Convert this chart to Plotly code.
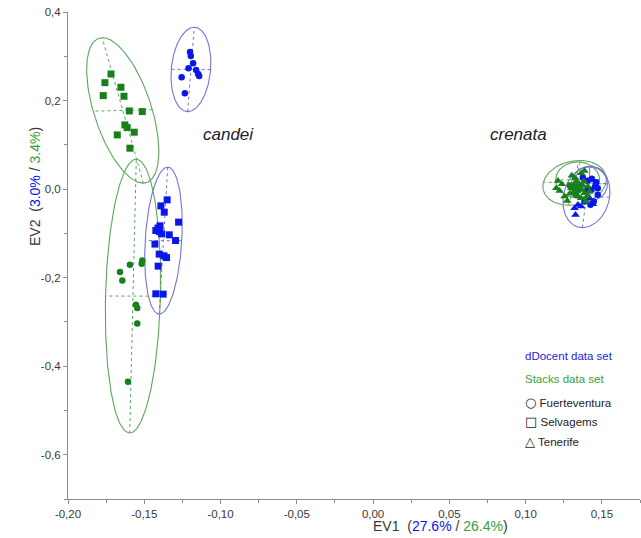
import numpy as np
import plotly.graph_objects as go

# ---------------- data ----------------
# candei
dd_fue_candei_x = [-0.120, -0.1195, -0.118, -0.121, -0.116, -0.1147, -0.114, -0.1255, -0.1234]
dd_fue_candei_y = [0.3097, 0.3007, 0.284, 0.273, 0.269, 0.260, 0.2555, 0.2526, 0.2165]

st_sel_candei_x = [-0.1718, -0.1758, -0.1653, -0.1769, -0.1633, -0.1598, -0.1513, -0.1627, -0.1612, -0.1566, -0.1677, -0.1594]
st_sel_candei_y = [0.260, 0.2404, 0.230, 0.2111, 0.2097, 0.1766, 0.175, 0.145, 0.1389, 0.1285, 0.1224, 0.0924]

dd_sel_candei_x = [-0.1350, -0.1391, -0.1369, -0.1275, -0.1397, -0.1424, -0.1386, -0.1336, -0.1295, -0.1430,
                   -0.1402, -0.1371, -0.1354, -0.1409, -0.1424, -0.1376, -0.1410, -0.1400]
dd_sel_candei_y = [-0.0243, -0.0379, -0.0521, -0.0747, -0.0830, -0.0936, -0.1011, -0.1033, -0.1162, -0.1243,
                   -0.1469, -0.1507, -0.1546, -0.1740, -0.2365, -0.2372, -0.0880, -0.0960]

st_fue_candei_x = [-0.1513, -0.1517, -0.1594, -0.1659, -0.1644, -0.1555, -0.1546, -0.1546, -0.1607]
st_fue_candei_y = [-0.1613, -0.1688, -0.1710, -0.1875, -0.2065, -0.2613, -0.2688, -0.3035, -0.4351]

# crenata
st_ten_cren_x = [0.1212, 0.1238, 0.1201, 0.1223, 0.1255, 0.1273, 0.1303, 0.1325, 0.1364, 0.1386, 0.1316, 0.1338, 0.1353,
                 0.1369, 0.1338, 0.1316, 0.1299, 0.1386, 0.1403, 0.1364, 0.1343, 0.1332, 0.1382, 0.1408, 0.1419, 0.1397,
                 0.1350, 0.1320, 0.1375, 0.1290]
st_ten_cren_y = [0.0186, 0.0111, 0.0021, -0.0039, -0.0167, -0.0265, 0.0307, 0.0247, 0.0359, 0.0412, 0.0096, 0.0059, 0.0021,
                 -0.0017, -0.0054, -0.0092, 0.0021, -0.0092, -0.0167, -0.0205, -0.0167, 0.0171, 0.0171, 0.0059, -0.0054, -0.0280,
                 0.0120, -0.0010, 0.0080, -0.0100]

st_fue_cren_x = [0.1290, 0.1330, 0.1350]
st_fue_cren_y = [0.0080, -0.0120, 0.0000]

dd_fue_cren_x = [0.1375, 0.1408, 0.1434, 0.1462, 0.1456, 0.1430, 0.1403, 0.1473, 0.1386, 0.1425, 0.1447, 0.1473]
dd_fue_cren_y = [0.0262, 0.0186, 0.0232, 0.0156, 0.0059, -0.0017, -0.0039, 0.0021, -0.0280, -0.0355, -0.0280, -0.0129]

dd_ten_cren_x = [0.1321, 0.1327, 0.1343, 0.1441, 0.1364, 0.1419]
dd_ten_cren_y = [-0.0430, -0.0581, -0.0355, -0.0340, -0.0393, -0.0205]

# confidence ellipses: centre x, centre y, semi-axis a, semi-axis b, angle of a (deg), data set
ell_cx = [-0.1194, -0.1641, -0.1374, -0.1574, 0.1321, 0.1399, 0.1341, 0.1419]
ell_cy = [0.2702, 0.1777, -0.1164, -0.2417, 0.0140, -0.0175, 0.0208, 0.0118]
ell_a = [0.0952, 0.1648, 0.1659, 0.3092, 0.0508, 0.0696, 0.0406, 0.0384]
ell_b = [0.0129, 0.0195, 0.0120, 0.0180, 0.0205, 0.0152, 0.0144, 0.0118]
ell_ang = [88.7, 94.7, 89.05, 89.6, 85.5, 87.8, 90.0, 90.0]
ell_set = ["dd", "st", "dd", "st", "st", "dd", "st", "dd"]

# axis ticks
x_tick_vals = [-0.20, -0.15, -0.10, -0.05, 0.00, 0.05, 0.10, 0.15]
x_tick_text = ["-0,20", "-0,15", "-0,10", "-0,05", "0,00", "0,05", "0,10", "0,15"]
y_tick_vals = [0.4, 0.2, 0.0, -0.2, -0.4, -0.6]
y_tick_text = ["0,4", "0,2", "0,0", "-0,2", "-0,4", "-0,6"]

# ---------------- styling ----------------
BLUE = "#0a17ec"
GREEN = "#17801a"
BLUE_L = "#7474d8"
GREEN_L = "#5ea65e"
AXC = "#8c8c8c"
TXT = "#383838"

fig = go.Figure()

# ellipses
t = np.linspace(0, 2 * np.pi, 200)
for cx, cy, a, b, ang, s in zip(ell_cx, ell_cy, ell_a, ell_b, ell_ang, ell_set):
    th = np.radians(ang)
    ux, uy = np.cos(th), np.sin(th)
    vx, vy = -np.sin(th), np.cos(th)
    ex = cx + a * np.cos(t) * ux + b * np.sin(t) * vx
    ey = cy + a * np.cos(t) * uy + b * np.sin(t) * vy
    col = BLUE_L if s == "dd" else GREEN_L
    fig.add_trace(go.Scatter(x=ex, y=ey, mode="lines", line=dict(color=col, width=1.1),
                             hoverinfo="skip", showlegend=False))
    # principal axes (dotted)
    fig.add_trace(go.Scatter(x=[cx - a * ux, cx + a * ux, None, cx - b * vx, cx + b * vx],
                             y=[cy - a * uy, cy + a * uy, None, cy - b * vy, cy + b * vy],
                             mode="lines", line=dict(color=col, width=1, dash="dot"),
                             hoverinfo="skip", showlegend=False))

def pts(x, y, color, symbol, size=7):
    fig.add_trace(go.Scatter(x=x, y=y, mode="markers",
                             marker=dict(color=color, symbol=symbol, size=size, line=dict(width=0)),
                             showlegend=False))

pts(st_sel_candei_x, st_sel_candei_y, GREEN, "square", 7)
pts(st_fue_candei_x, st_fue_candei_y, GREEN, "circle", 6.5)
pts(dd_fue_candei_x, dd_fue_candei_y, BLUE, "circle", 6.5)
pts(dd_sel_candei_x, dd_sel_candei_y, BLUE, "square", 7)
pts(dd_ten_cren_x, dd_ten_cren_y, BLUE, "triangle-up", 7.5)
pts(dd_fue_cren_x, dd_fue_cren_y, BLUE, "circle", 6.5)
pts(st_fue_cren_x, st_fue_cren_y, GREEN, "circle", 6.5)
pts(st_ten_cren_x, st_ten_cren_y, GREEN, "triangle-up", 7.5)

FONT = "Liberation Sans, Arial, sans-serif"

fig.update_layout(
    width=641, height=538,
    margin=dict(l=68, r=1, t=12, b=39),
    paper_bgcolor="white", plot_bgcolor="white",
    font=dict(family=FONT, size=11, color=TXT),
    showlegend=False,
    xaxis=dict(range=[-0.2, 0.175], tickmode="array", tickvals=x_tick_vals, ticktext=x_tick_text,
               showgrid=False, zeroline=False, showline=True, linecolor=AXC, linewidth=1,
               ticks="outside", ticklen=4, tickcolor=AXC,
               minor=dict(tick0=-0.2, dtick=0.025, ticks="outside", ticklen=3, tickcolor=AXC),
               tickfont=dict(size=11.5, color=TXT)),
    yaxis=dict(range=[-0.7, 0.4], tickmode="array", tickvals=y_tick_vals, ticktext=y_tick_text,
               showgrid=False, zeroline=False, showline=True, linecolor=AXC, linewidth=1,
               ticks="outside", ticklen=4, tickcolor=AXC,
               minor=dict(tick0=-0.6, dtick=0.1, ticks="outside", ticklen=3, tickcolor=AXC),
               tickfont=dict(size=11.5, color=TXT)),
)

ann = []
ann.append(dict(text="EV1  (<span style='color:%s'>27.6%%</span> / <span style='color:%s'>26.4%%</span>)" % (BLUE, "#3aa03a"),
                xref="paper", yref="paper", x=(440 - 68) / 572, y=-(526 - 499) / 487,
                showarrow=False, font=dict(size=14, color=TXT), xanchor="center", yanchor="middle"))
ann.append(dict(text="EV2  (<span style='color:%s'>3.0%%</span> / <span style='color:%s'>3.4%%</span>)" % (BLUE, "#3aa03a"),
                xref="paper", yref="paper", x=-(68 - 35) / 572, y=(499 - 187) / 487, textangle=-90,
                showarrow=False, font=dict(size=14, color=TXT), xanchor="center", yanchor="middle"))
ann.append(dict(text="<i>candei</i>", xref="paper", yref="paper", x=(228 - 68) / 572, y=(499 - 134) / 487,
                showarrow=False, font=dict(size=17, color="#222222"), xanchor="center", yanchor="middle"))
ann.append(dict(text="<i>crenata</i>", xref="paper", yref="paper", x=(518 - 68) / 572, y=(499 - 134) / 487,
                showarrow=False, font=dict(size=17, color="#222222"), xanchor="center", yanchor="middle"))
legend_items = [("dDocent data set", "#2323d8", 356, ""), ("Stacks data set", "#3aa03a", 379, ""),
                ("Fuerteventura", "#222222", 402, "○"), ("Selvagems", "#222222", 422, "□"),
                ("Tenerife", "#222222", 441, "△")]
for txt, col, py, sym in legend_items:
    label = txt if not sym else "<span style='font-family:DejaVu Sans;font-size:13px'>%s</span> %s" % (sym, txt)
    ann.append(dict(text=label, xref="paper", yref="paper", x=(523 - 68) / 572, y=(499 - py) / 487,
                    showarrow=False, font=dict(size=11.5, color=col), xanchor="left", yanchor="middle"))
fig.update_layout(annotations=ann)

fig.write_html("out.html", config={"displayModeBar": False},
               post_script="document.body.style.margin='0px';document.body.style.overflow='hidden';")
